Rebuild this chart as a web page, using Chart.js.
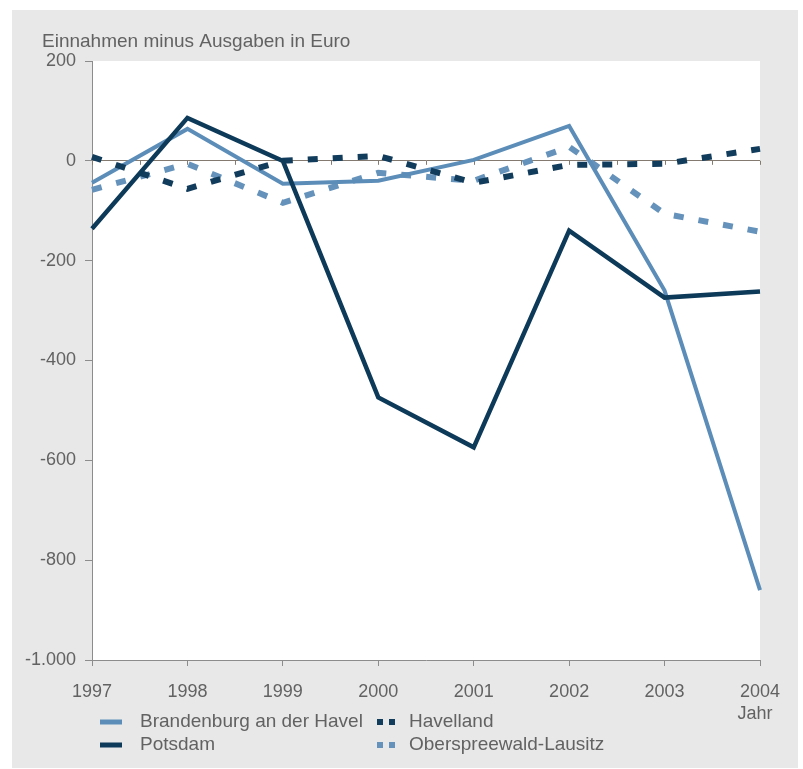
<!DOCTYPE html>
<html><head><meta charset="utf-8">
<script src="https://cdn.jsdelivr.net/npm/chart.js@4"></script>
<style>
html,body{margin:0;padding:0;background:#fff;}
#panel{position:absolute;left:12px;top:10px;width:786px;height:758px;background:#e8e8e8;}
#wrap{position:absolute;left:0;top:0;width:803px;height:769px;}
</style></head><body>
<div id="panel"></div>
<div id="wrap"><canvas id="c" width="803" height="769"></canvas></div>
<script>
const titleText = 'Einnahmen minus Ausgaben in Euro';
const xAxisTitle = 'Jahr';
const years = ['1997','1998','1999','2000','2001','2002','2003','2004'];
const brandenburg = [-44, 64, -46, -40, 2, 70, -260, -860];
const potsdam = [-136, 86, 0, -474, -574, -140, -274, -262];
const havelland = [8, -56, 0, 10, -44, -8, -6, 24];
const oberspreewald = [-58, -6, -84, -24, -40, 28, -106, -142];
const seriesNames = ['Brandenburg an der Havel', 'Potsdam', 'Havelland', 'Oberspreewald-Lausitz'];
const yMin = -1000, yMax = 200, yStep = 200;

const FONT = "'Liberation Sans', Arial, sans-serif";
const TXT = '#626262';
const AXIS = '#8c8c8c';

function fmt(v){
  const s = Math.abs(v).toString().replace(/\B(?=(\d{3})+(?!\d))/g, '.');
  return (v < 0 ? '-' : '') + s;
}

const bgPlugin = {
  id: 'bg',
  beforeDraw(chart){
    const {ctx, chartArea:a} = chart;
    ctx.save();
    ctx.fillStyle = '#ffffff';
    ctx.fillRect(a.left, a.top, a.right - a.left, a.bottom - a.top);
    ctx.restore();
  },
  beforeDatasetsDraw(chart){
    const {ctx} = chart;
    const xs = chart.scales.x, ys = chart.scales.y;
    const y0 = ys.getPixelForValue(0);
    ctx.save();
    ctx.strokeStyle = '#857a70';
    ctx.lineWidth = 1;
    for (let i = 0; i <= years.length - 1; i += 0.5){
      const x = Math.round(xs.getPixelForValue(i)) + 0.5;
      ctx.beginPath();
      ctx.moveTo(x, y0);
      ctx.lineTo(x, y0 + 4);
      ctx.stroke();
    }
    ctx.restore();
  },
  afterDraw(chart){
    const {ctx, chartArea:a} = chart;
    ctx.save();
    ctx.fillStyle = TXT;
    ctx.textBaseline = 'middle';
    ctx.textAlign = 'left';
    ctx.font = "19px " + FONT;
    ctx.fillText(titleText, a.left - 50, a.top - 19);
    ctx.font = "18px " + FONT;
    ctx.textAlign = 'center';
    ctx.fillText(xAxisTitle, a.right - 5, a.bottom + 54);
    // legend
    ctx.font = "19px " + FONT;
    const ds = chart.data.datasets;
    ds.forEach((d, i) => {
      const col = Math.floor(i / 2), row = i % 2;
      const sx = a.left + 8 + col * 276;
      const sy = a.bottom + 62 + row * 23;
      ctx.fillStyle = d.borderColor;
      if (d.borderDash && d.borderDash.length){
        ctx.fillRect(sx + 1, sy - 3, 6, 6);
        ctx.fillRect(sx + 13, sy - 3, 6, 6);
      } else {
        ctx.fillRect(sx, sy - 2.5, 22, 5);
      }
      ctx.fillStyle = TXT;
      ctx.textAlign = 'left';
      ctx.fillText(d.label, sx + (col ? 33 : 40), sy);
    });
    ctx.restore();
  }
};

new Chart(document.getElementById('c'), {
  type: 'line',
  data: {
    labels: years,
    datasets: [
      {label: seriesNames[0], data: brandenburg, borderColor: '#5b8db8', borderWidth: 4, pointRadius: 0, tension: 0, order: 3},
      {label: seriesNames[1], data: potsdam, borderColor: '#0e3a5a', borderWidth: 4.5, pointRadius: 0, tension: 0, order: 1},
      {label: seriesNames[2], data: havelland, borderColor: '#123c5c', borderWidth: 6, borderDash: [10, 15], borderCapStyle: 'butt', pointRadius: 0, tension: 0, order: 2},
      {label: seriesNames[3], data: oberspreewald, borderColor: '#6492bb', borderWidth: 6, borderDash: [10, 15], borderCapStyle: 'butt', pointRadius: 0, tension: 0, order: 4}
    ]
  },
  options: {
    responsive: false,
    animation: false,
    layout: {padding: {top: 61, right: 43, left: 0, bottom: 0}},
    plugins: {legend: {display: false}, tooltip: {enabled: false}, title: {display: false}},
    scales: {
      x: {
        type: 'category',
        offset: false,
        afterFit(s){ s.height = 109; },
        border: {display: true, color: AXIS, width: 1},
        grid: {drawOnChartArea: false, drawTicks: true, tickLength: 6, tickColor: AXIS, tickWidth: 1},
        ticks: {color: TXT, font: {family: FONT, size: 18}, padding: 15, maxRotation: 0, autoSkip: false}
      },
      y: {
        min: yMin, max: yMax,
        afterFit(s){ s.width = 92; },
        border: {display: true, color: AXIS, width: 1},
        grid: {
          drawOnChartArea: true,
          color: c => (c.tick && c.tick.value === 0) ? '#857a70' : 'rgba(0,0,0,0)',
          lineWidth: 1,
          tickLength: 7, tickColor: AXIS, tickWidth: 1
        },
        ticks: {stepSize: yStep, color: TXT, font: {family: FONT, size: 18}, padding: 9, callback: v => fmt(v)}
      }
    }
  },
  plugins: [bgPlugin]
});
</script>
</body></html>
